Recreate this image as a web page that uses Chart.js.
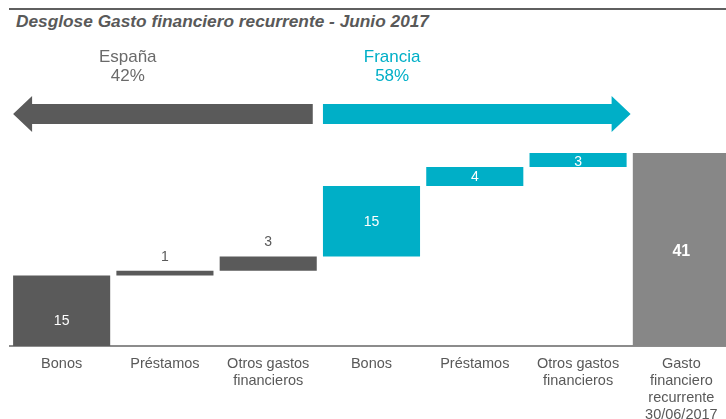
<!DOCTYPE html>
<html>
<head>
<meta charset="utf-8">
<script src="https://cdn.jsdelivr.net/npm/chart.js@4"></script>
<style>
  html, body { margin: 0; padding: 0; background: #fff; overflow: hidden; }
  #wrap { position: relative; width: 726px; height: 419px; overflow: hidden; }
  #rule { position: absolute; left: 9px; right: 0; top: 8px; height: 2px; background: #5f5f5f; }
  #title {
    position: absolute; left: 16px; top: 11px;
    font: italic bold 17.3px "Liberation Sans", Arial, sans-serif; color: #595959;
    white-space: nowrap;
  }
  canvas { position: absolute; left: 0; top: 0; }
</style>
</head>
<body>
<div id="wrap">
  <div id="rule"></div>
  <div id="title">Desglose Gasto financiero recurrente - Junio 2017</div>
  <canvas id="waterfall" width="740" height="419"></canvas>
</div>
<script>
const categorias = [
  "Bonos", "Préstamos", ["Otros gastos", "financieros"],
  "Bonos", "Préstamos", ["Otros gastos", "financieros"],
  ["Gasto", "financiero", "recurrente", "30/06/2017"]
]
const valoresEspana = [15, 1, 3]
const valoresFrancia = [15, 4, 3]
const totalRecurrente = 41
const regiones = [
  { nombre: "España", pct: "42%" },
  { nombre: "Francia", pct: "58%" }
]

const GRIS = "#5a5a5a"
const TEAL = "#00afc7"
const GRIS_TOTAL = "#878787"

// floating [start, end] ranges for the waterfall steps
let acumulado = 0
const tramos = []
for (const v of [...valoresEspana, ...valoresFrancia]) {
  tramos.push([acumulado, acumulado + v])
  acumulado += v
}
tramos.push([0, totalRecurrente])
const valores = [...valoresEspana, ...valoresFrancia, totalRecurrente]
const colores = [
  ...valoresEspana.map(() => GRIS),
  ...valoresFrancia.map(() => TEAL),
  GRIS_TOTAL
]

// where each value label sits relative to its bar
const etiquetas = [
  { modo: "center", dy: 10, color: "#fff" },
  { modo: "above", dy: -14, color: GRIS },
  { modo: "above", dy: -14, color: GRIS },
  { modo: "center", dy: 1, color: "#fff" },
  { modo: "center", dy: 1, color: "#fff" },
  { modo: "center", dy: 2, color: "#fff" },
  { modo: "center", dy: 2, color: "#fff", bold: true, size: 16 }
]

const valueLabels = {
  id: "valueLabels",
  afterDatasetsDraw(chart) {
    const { ctx } = chart
    const meta = chart.getDatasetMeta(0)
    ctx.save()
    ctx.textAlign = "center"
    ctx.textBaseline = "middle"
    meta.data.forEach((bar, i) => {
      const cfg = etiquetas[i]
      const top = Math.min(bar.y, bar.base)
      const bottom = Math.max(bar.y, bar.base)
      const y = cfg.modo === "above" ? top + cfg.dy : (top + bottom) / 2 + cfg.dy
      ctx.font = `${cfg.bold ? "bold " : ""}${cfg.size || 14}px "Liberation Sans", Arial, sans-serif`
      ctx.fillStyle = cfg.color
      ctx.fillText(String(valores[i]), bar.x, y)
    })
    ctx.restore()
  }
}

// region arrows (España to the left, Francia to the right) with their share
const regionArrows = {
  id: "regionArrows",
  afterDraw(chart) {
    const { ctx } = chart
    const bars = chart.getDatasetMeta(0).data
    const x = chart.scales.x
    const cy = 114, shaft = 10, head = 18, headLen = 19
    const left = (b) => b.x - b.width / 2
    const right = (b) => b.x + b.width / 2

    ctx.save()
    // España: points left
    let tip = left(bars[0]), end = right(bars[2]) - 4
    ctx.fillStyle = GRIS
    ctx.beginPath()
    ctx.moveTo(tip, cy)
    ctx.lineTo(tip + headLen, cy - head)
    ctx.lineTo(tip + headLen, cy - shaft)
    ctx.lineTo(end, cy - shaft)
    ctx.lineTo(end, cy + shaft)
    ctx.lineTo(tip + headLen, cy + shaft)
    ctx.lineTo(tip + headLen, cy + head)
    ctx.closePath()
    ctx.fill()

    // Francia: points right
    const start = left(bars[3])
    tip = right(bars[5]) + 4
    ctx.fillStyle = TEAL
    ctx.beginPath()
    ctx.moveTo(tip, cy)
    ctx.lineTo(tip - headLen, cy - head)
    ctx.lineTo(tip - headLen, cy - shaft)
    ctx.lineTo(start, cy - shaft)
    ctx.lineTo(start, cy + shaft)
    ctx.lineTo(tip - headLen, cy + shaft)
    ctx.lineTo(tip - headLen, cy + head)
    ctx.closePath()
    ctx.fill()

    ctx.font = '17px "Liberation Sans", Arial, sans-serif'
    ctx.textAlign = "center"
    ctx.textBaseline = "middle"
    const pos = [x.getPixelForValue(0.64), x.getPixelForValue(3.2)]
    const tintes = ["#6a6a6a", TEAL]
    regiones.forEach((r, i) => {
      ctx.fillStyle = tintes[i]
      ctx.fillText(r.nombre, pos[i], 57)
      ctx.fillText(r.pct, pos[i], 76)
    })
    ctx.restore()
  }
}

new Chart(document.getElementById("waterfall"), {
  type: "bar",
  data: {
    labels: categorias,
    datasets: [{
      data: tramos,
      backgroundColor: colores,
      borderWidth: 0,
      categoryPercentage: 1,
      barPercentage: 0.94
    }]
  },
  options: {
    responsive: false,
    animation: false,
    layout: { padding: { top: 153, left: 10, right: 7, bottom: 0 } },
    plugins: { legend: { display: false }, tooltip: { enabled: false } },
    scales: {
      y: { display: false, min: 0, max: totalRecurrente },
      x: {
        grid: { display: false, drawTicks: false },
        border: { display: true, color: "#8c8c8c", width: 2 },
        ticks: {
          color: "#595959",
          padding: 10,
          maxRotation: 0,
          autoSkip: false,
          font: { family: '"Liberation Sans", Arial, sans-serif', size: 14.5, lineHeight: 1.17 }
        },
        afterFit(scale) { scale.height = 73 }
      }
    }
  },
  plugins: [valueLabels, regionArrows]
})
</script>
</body>
</html>
